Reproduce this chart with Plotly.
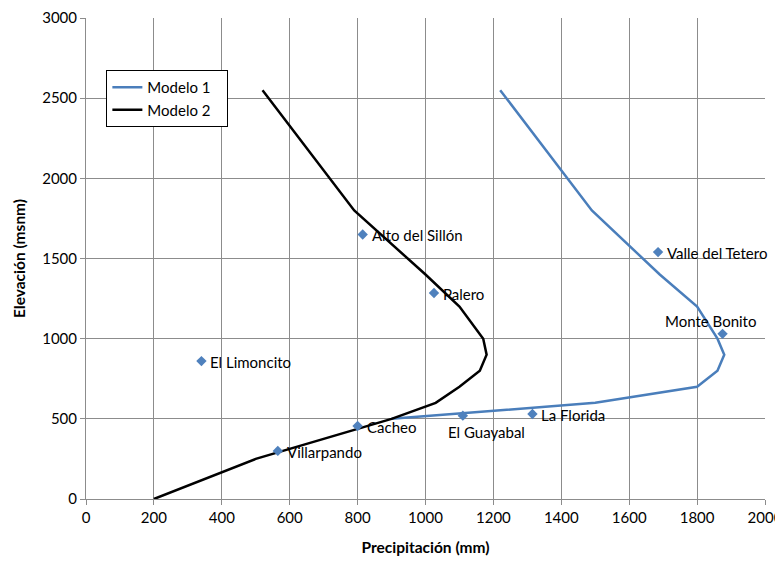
import plotly.graph_objects as go

# Model curves (precipitation mm vs elevation msnm)
modelo1_x = [1220, 1490, 1690, 1800, 1860, 1880, 1860, 1800, 1500, 900]
modelo1_y = [2550, 1800, 1400, 1200, 1000, 900, 800, 700, 600, 500]
modelo2_x = [520, 790, 1000, 1100, 1170, 1180, 1160, 1100, 1030, 900, 500, 200]
modelo2_y = [2550, 1800, 1400, 1200, 1000, 900, 800, 700, 600, 500, 250, 0]

# Stations
estaciones = ["Alto del Sillón", "Palero", "Valle del Tetero", "Monte Bonito",
              "La Florida", "El Guayabal", "Cacheo", "Villarpando", "El Limoncito"]
est_x = [815, 1025, 1685, 1875, 1315, 1110, 800, 565, 340]
est_y = [1650, 1285, 1540, 1030, 530, 520, 455, 300, 860]

x_ticks = list(range(0, 2001, 200))
y_ticks = list(range(0, 3001, 500))

FONT = "Lato"
grid = "#8c8c8c"

fig = go.Figure()
fig.add_trace(go.Scatter(x=modelo1_x, y=modelo1_y, mode="lines", name="Modelo 1&nbsp;&nbsp;&nbsp;",
                         line=dict(color="#4A7EBB", width=2.5)))
fig.add_trace(go.Scatter(x=modelo2_x, y=modelo2_y, mode="lines", name="Modelo 2&nbsp;&nbsp;&nbsp;",
                         line=dict(color="#000000", width=2.5)))
fig.add_trace(go.Scatter(x=est_x, y=est_y, mode="markers", showlegend=False,
                         marker=dict(symbol="diamond", size=8, color="#4F81BD")))

for name, x, y in zip(estaciones, est_x, est_y):
    if name == "Monte Bonito":
        fig.add_annotation(x=x, y=y, text=name, showarrow=False, xanchor="center",
                           yanchor="bottom", xshift=-12, yshift=2)
    elif name == "El Guayabal":
        fig.add_annotation(x=x, y=y, text=name, showarrow=False, xanchor="center",
                           yanchor="top", xshift=24, yshift=-5)
    else:
        fig.add_annotation(x=x, y=y, text=name, showarrow=False, xanchor="left",
                           yanchor="middle", xshift=7, yshift=-1)

# page body adds an 8px offset; margins compensate so the plot area lands
# at x 86..765, y 18..499 in the screenshot
fig.update_layout(
    width=783, height=564,
    margin=dict(l=78, r=26, t=10, b=73),
    paper_bgcolor="white", plot_bgcolor="white",
    font=dict(family=FONT, size=15, color="#000000"),
    showlegend=True,
    legend=dict(x=0.03, y=0.892, xanchor="left", yanchor="top",
                bgcolor="white", bordercolor="#000000", borderwidth=1,
                font=dict(family=FONT, size=15), tracegroupgap=4,
                itemwidth=30),
    xaxis=dict(range=[0, 2000], tickvals=x_ticks, showgrid=True, gridcolor=grid,
               gridwidth=1, showline=True, linecolor=grid, ticks="outside",
               ticklen=5, tickcolor=grid, zeroline=False, mirror=False,
               automargin=False, tickfont=dict(size=15),
               title=dict(text="<b>Precipitación (mm)</b>", font=dict(size=15.5), standoff=17)),
    yaxis=dict(range=[0, 3000], tickvals=y_ticks, showgrid=True, gridcolor=grid,
               gridwidth=1, showline=True, linecolor=grid, ticks="outside",
               ticklen=5, tickcolor=grid, zeroline=False, automargin=False,
               tickfont=dict(size=15),
               title=dict(text="<b>Elevación (msnm)</b>", font=dict(size=15.5), standoff=12)),
)
fig.write_html("out.html")
